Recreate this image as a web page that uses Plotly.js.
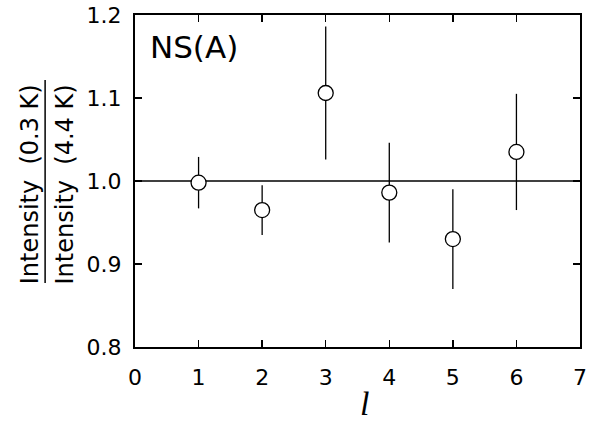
<!DOCTYPE html>
<html>
<head>
<meta charset="utf-8">
<script src="https://cdn.plot.ly/plotly-3.0.1.min.js"></script>
<style>html,body{margin:0;padding:0;background:#fff;}#chart{width:593px;height:424px;}</style>
</head>
<body>
<div id="chart"></div>
<script>
// Data
const lValues = [1, 2, 3, 4, 5, 6];
const ratio = [0.998, 0.965, 1.106, 0.986, 0.930, 1.035];
const ratioErr = [0.031, 0.030, 0.080, 0.060, 0.060, 0.070];
const refValue = 1.0;
const xTicks = [0, 1, 2, 3, 4, 5, 6, 7];
const yTicks = [0.8, 0.9, 1.0, 1.1, 1.2];
const panelLabel = "NS(A)";
const numeratorLabel = "Intensity  (0.3 K)";
const denominatorLabel = "Intensity  (4.4 K)";
const xLabel = "l";

const font = "DejaVu Sans, sans-serif";

const trace = {
  x: lValues,
  y: ratio,
  type: "scatter",
  mode: "markers",
  error_y: {type: "data", array: ratioErr, visible: true, color: "#000", thickness: 1.3, width: 0},
  marker: {symbol: "circle", size: 15, color: "#fff", line: {color: "#000", width: 1.3}},
  showlegend: false,
  hoverinfo: "skip"
};

const layout = {
  width: 593, height: 424,
  margin: {l: 135, r: 13, t: 15, b: 77},
  paper_bgcolor: "#fff", plot_bgcolor: "#fff",
  font: {family: font, color: "#000", size: 22},
  showlegend: false,
  xaxis: {
    range: [0, 7], tickvals: xTicks, ticktext: xTicks.map(String),
    showgrid: false, zeroline: false, showline: true, linecolor: "#000", linewidth: 2,
    mirror: "ticks", ticks: "inside", ticklen: 7, tickwidth: 1.5, tickcolor: "#000",
    tickfont: {family: font, size: 22, color: "#000"}, ticklabelstandoff: 10
  },
  yaxis: {
    range: [0.8, 1.2], tickvals: yTicks, tickformat: ".1f",
    showgrid: false, zeroline: false, showline: true, linecolor: "#000", linewidth: 2,
    mirror: "ticks", ticks: "inside", ticklen: 7, tickwidth: 1.5, tickcolor: "#000",
    tickfont: {family: font, size: 22, color: "#000"}, ticklabelstandoff: 7
  },
  shapes: [
    {type: "line", xref: "paper", yref: "y", x0: 0, x1: 1, y0: refValue, y1: refValue, line: {color: "#000", width: 1.3}, layer: "below"},
    {type: "line", xref: "paper", yref: "paper", x0: -0.202, x1: -0.202, y0: 0.193, y1: 0.804, line: {color: "#000", width: 1.5}}
  ],
  annotations: [
    {text: panelLabel, xref: "paper", yref: "paper", x: 0.03, y: 0.965, xanchor: "left", yanchor: "top", showarrow: false, font: {family: font, size: 31, color: "#000"}},
    {text: numeratorLabel, xref: "paper", yref: "paper", x: -0.236, y: 0.49, xanchor: "center", yanchor: "middle", textangle: -90, showarrow: false, font: {family: font, size: 24, color: "#000"}},
    {text: denominatorLabel, xref: "paper", yref: "paper", x: -0.157, y: 0.49, xanchor: "center", yanchor: "middle", textangle: -90, showarrow: false, font: {family: font, size: 24, color: "#000"}},
    {text: xLabel, xref: "paper", yref: "paper", x: 0.515, y: -0.232, xanchor: "center", yanchor: "bottom", showarrow: false, font: {family: "Liberation Serif, Times New Roman, serif", size: 34, style: "italic", color: "#000"}}
  ]
};

Plotly.newPlot("chart", [trace], layout, {displayModeBar: false, staticPlot: true});
</script>
</body>
</html>
